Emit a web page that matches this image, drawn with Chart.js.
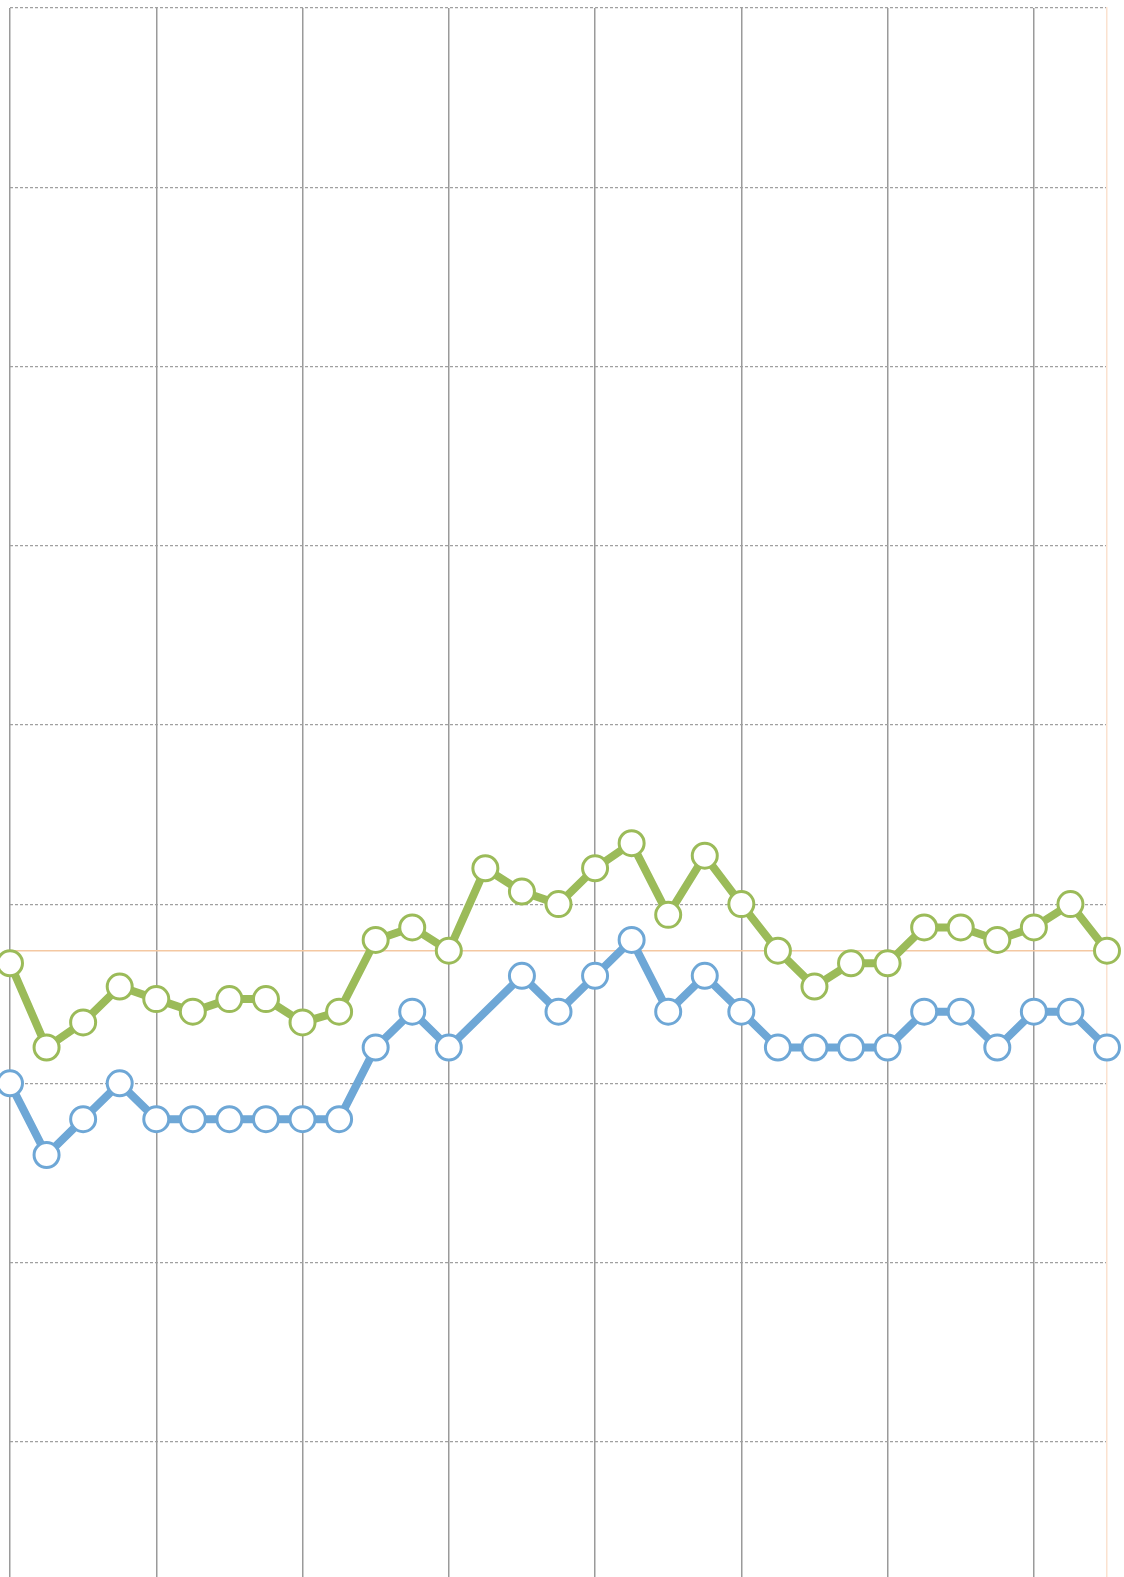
<!DOCTYPE html>
<html>
<head>
<meta charset="utf-8">
<script src="https://cdn.jsdelivr.net/npm/chart.js@4/dist/chart.umd.min.js"></script>
<style>
  html, body { margin: 0; padding: 0; overflow: hidden; background: #fff; }
  #wrap { width: 1124px; height: 1622px; }
</style>
</head>
<body>
<div id="wrap"><canvas id="chart" width="1124" height="1622"></canvas></div>
<script>
// 31 periods, no labels shown in the picture
const labels = Array.from({ length: 31 }, (_, i) => String(i + 1));

const blueValues = [20, 16, 18, 20, 18, 18, 18, 18, 18, 18, 22, 24, 22, null, 26, 24,
  26, 28, 24, 26, 24, 22, 22, 22, 22, 24, 24, 22, 24, 24, 22];

const greenValues = [26.7, 22.0, 23.4, 25.4, 24.7, 24.0, 24.7, 24.7, 23.4, 24.0, 28.0,
  28.7, 27.4, 32.0, 30.7, 30.0, 32.0, 33.4, 29.4, 32.7, 30.0, 27.4, 25.4, 26.7,
  26.7, 28.7, 28.7, 28.0, 28.7, 30.0, 27.4];

const refLevel = 27.4;

const yMin = -10;
const yMax = 80;
const yStep = 10;

const refValues = labels.map(() => refLevel);

new Chart(document.getElementById("chart"), {
  type: "line",
  data: {
    labels: labels,
    datasets: [
      {
        label: "ref",
        data: refValues,
        borderColor: "#f4c8a2",
        borderWidth: 1.5,
        pointRadius: 0,
        fill: false,
        order: 3
      },
      {
        label: "blue",
        data: blueValues,
        borderColor: "#6ea7d6",
        borderWidth: 8,
        pointRadius: 12.5,
        pointBorderWidth: 3,
        pointBackgroundColor: "#fff",
        pointBorderColor: "#6ea7d6",
        spanGaps: true,
        tension: 0,
        clip: false,
        order: 2
      },
      {
        label: "green",
        data: greenValues,
        borderColor: "#9bbb59",
        borderWidth: 8,
        pointRadius: 12.5,
        pointBorderWidth: 3,
        pointBackgroundColor: "#fff",
        pointBorderColor: "#9bbb59",
        tension: 0,
        clip: false,
        order: 1
      }
    ]
  },
  options: {
    responsive: false,
    animation: false,
    layout: { autoPadding: false, padding: { top: 8, left: 10, right: 17, bottom: 1 } },
    plugins: { legend: { display: false }, tooltip: { enabled: false } },
    scales: {
      x: {
        offset: false,
        ticks: { display: false, autoSkip: false },
        grid: {
          drawTicks: false,
          color: (ctx) => (ctx.index % 4 === 0 ? "#9a9a9a" : "rgba(0,0,0,0)"),
          lineWidth: 1.5
        },
        border: { display: false }
      },
      y: {
        min: yMin,
        max: yMax,
        ticks: { display: false, stepSize: yStep },
        grid: { drawTicks: false, color: "#a0a0a0", lineWidth: 1.2 },
        border: { display: false, dash: [3, 2] }
      },
      y2: {
        position: "right",
        min: yMin,
        max: yMax,
        ticks: { display: false },
        grid: { display: false, drawTicks: false },
        border: { display: true, color: "#fbe2cf", width: 1.5 }
      }
    }
  }
});
</script>
</body>
</html>
